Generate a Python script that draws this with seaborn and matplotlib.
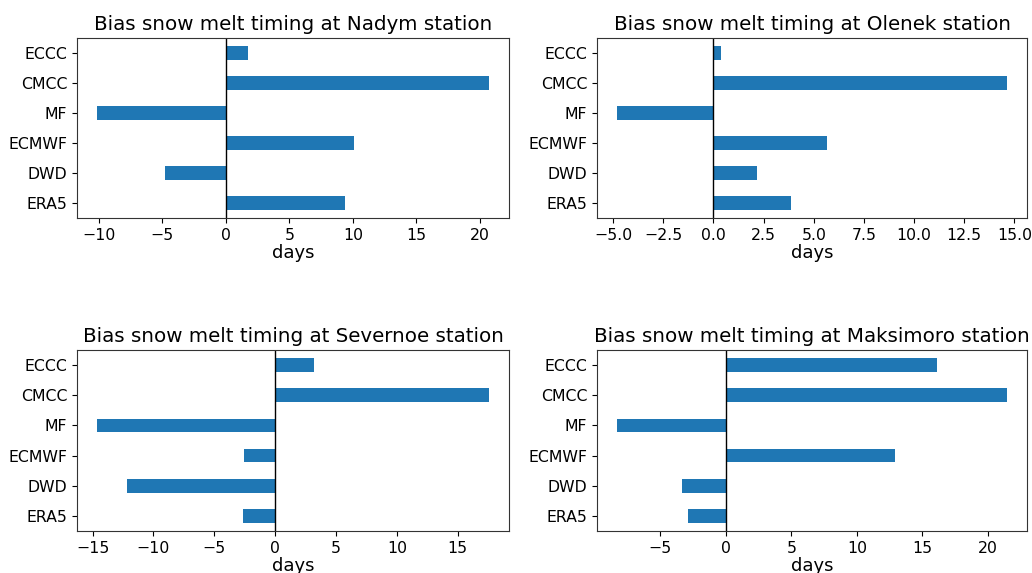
import matplotlib
matplotlib.use("Agg")
import matplotlib.pyplot as plt
import seaborn as sns
import pandas as pd

# Forecast systems, listed top to bottom
models = ["ECCC", "CMCC", "MF", "ECMWF", "DWD", "ERA5"]

# Bias in snow melt timing (days) per station
nadym = [1.75, 20.76, -10.18, 10.13, -4.76, 9.37]
olenek = [0.4, 14.65, -4.83, 5.66, 2.19, 3.84]
severnoe = [3.15, 17.6, -14.67, -2.6, -12.21, -2.68]
maksimoro = [16.15, 21.49, -8.35, 12.91, -3.34, -2.89]

stations = ["Nadym", "Olenek", "Severnoe", "Maksimoro"]
biases = [nadym, olenek, severnoe, maksimoro]

W, H = 1032, 573
fig = plt.figure(figsize=(W / 100, H / 100), dpi=100)

# axes rectangles in pixels: left, top, right, bottom
rects = [
    (77, 38, 509, 218),
    (597, 38, 1027, 218),
    (77, 350, 509, 531),
    (597, 350, 1027, 531),
]

for (l, t, r, b), name, vals in zip(rects, stations, biases):
    ax = fig.add_axes([l / W, 1 - b / H, (r - l) / W, (b - t) / H])
    df = pd.DataFrame({"model": models, "bias": vals})
    sns.barplot(data=df, x="bias", y="model", order=models, orient="h",
                color="#1f77b4", saturation=1, width=0.45, ax=ax)
    ax.axvline(0, color="black", lw=1)
    ax.set_title(f"Bias snow melt timing at {name} station", fontsize=14.3)
    ax.set_xlabel("days", fontsize=13, labelpad=1)
    ax.set_ylabel("")
    ax.tick_params(labelsize=11.3)
    for s in ax.spines.values():
        s.set_color("#333333")

fig.savefig("out.png", dpi=100)
